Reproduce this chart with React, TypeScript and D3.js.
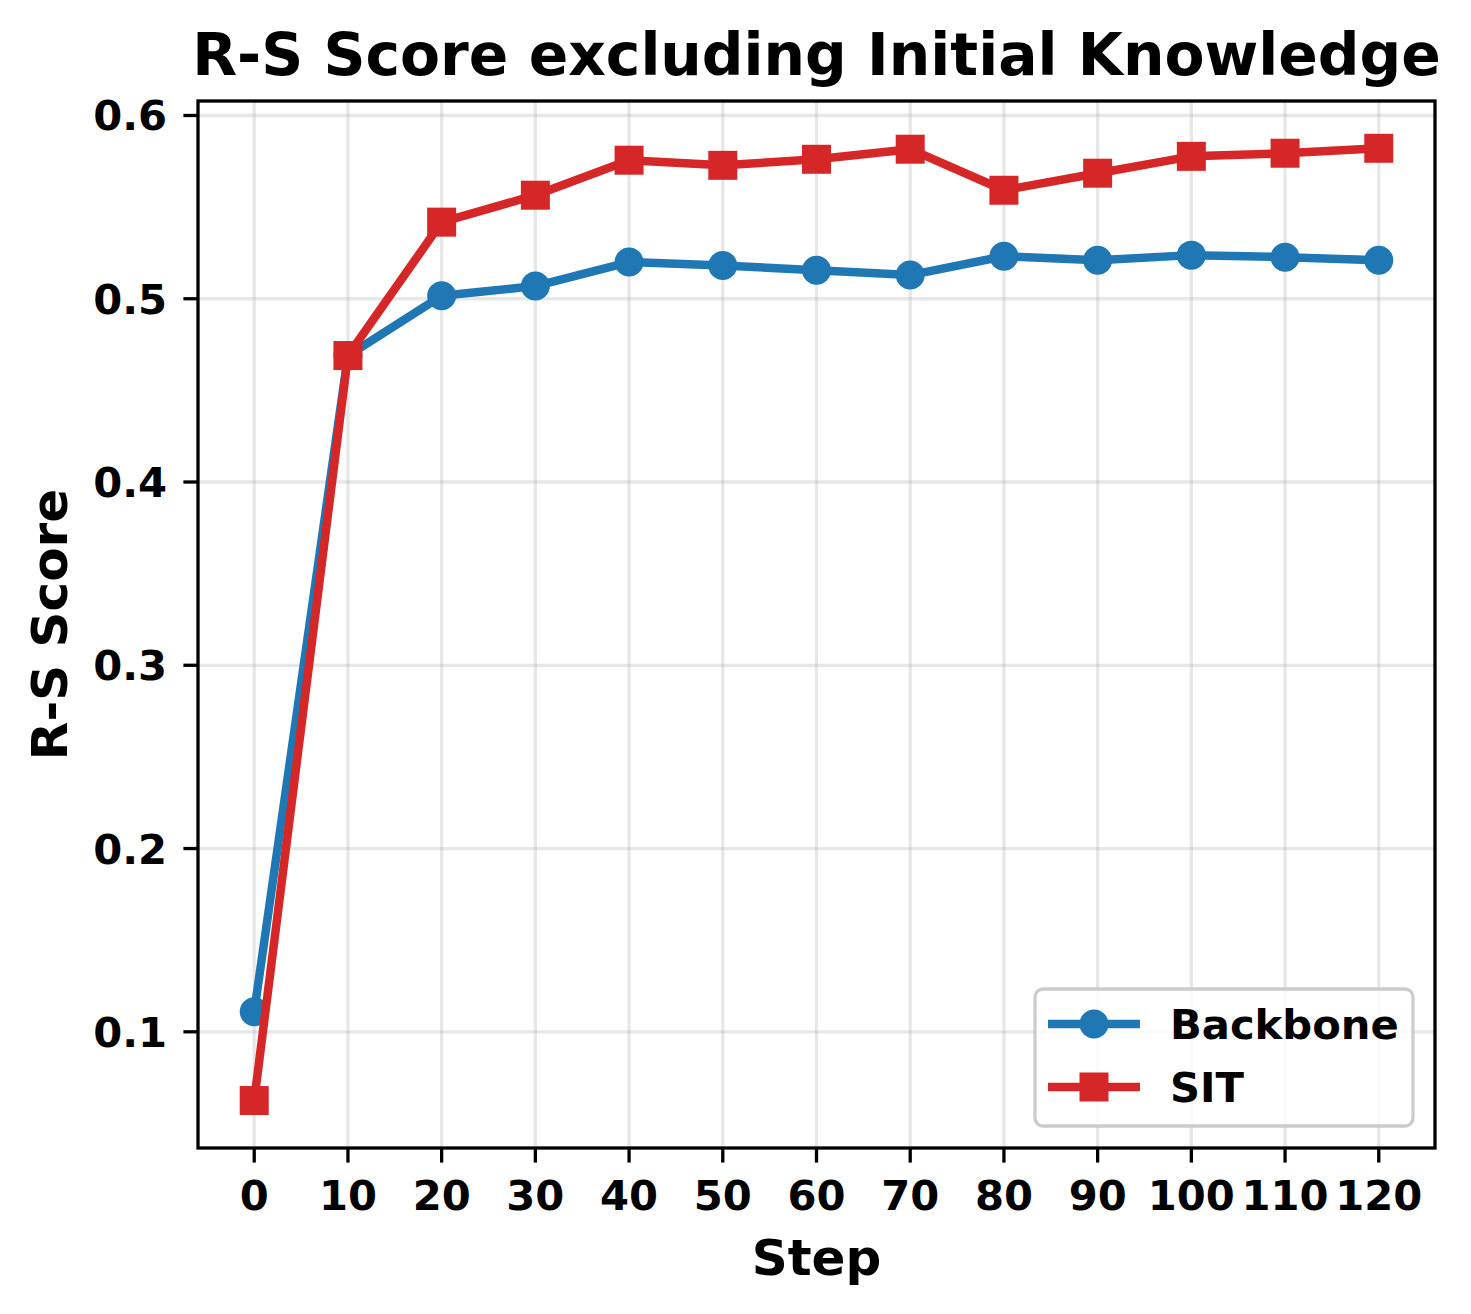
import React from "react";
import * as d3 from "d3";

const steps = [0, 10, 20, 30, 40, 50, 60, 70, 80, 90, 100, 110, 120];
const backbone = [0.111, 0.469, 0.5016, 0.5069, 0.52, 0.5181, 0.5156, 0.5129, 0.5232, 0.521, 0.5238, 0.5227, 0.521];
const sit = [0.0625, 0.469, 0.5418, 0.5565, 0.5756, 0.5728, 0.5761, 0.5816, 0.5592, 0.5685, 0.5777, 0.5794, 0.5821];
const yTicks = [0.1, 0.2, 0.3, 0.4, 0.5, 0.6];
const xTicks = [0, 10, 20, 30, 40, 50, 60, 70, 80, 90, 100, 110, 120];

const W = 1471;
const H = 1314;
const L = 198, R = 1435, T = 101, B = 1148;
const FONT = "'DejaVu Sans', sans-serif";
const BLUE = "#1f77b4";
const RED = "#d62728";

export default function App() {
  React.useEffect(() => {
    document.body.style.margin = "0";
  }, []);
  const x = d3.scaleLinear().domain([-6, 126]).range([L, R]);
  const y = d3.scaleLinear().domain([0.0366, 0.6079]).range([B, T]);
  const line = d3
    .line<number>()
    .x((_, i) => x(steps[i]))
    .y((d) => y(d));
  const lw = 8.5;
  const ms = 29;
  return (
    <svg width={W} height={H} style={{ display: "block", position: "absolute", left: 0, top: 0, background: "#fff" }} fontFamily={FONT} fontWeight="bold">
      <rect x={0} y={0} width={W} height={H} fill="#fff" />
      {/* grid */}
      {xTicks.map((t) => (
        <line key={"gx" + t} x1={x(t)} x2={x(t)} y1={T} y2={B} stroke="#b0b0b0" strokeOpacity={0.3} strokeWidth={3.3} />
      ))}
      {yTicks.map((t) => (
        <line key={"gy" + t} x1={L} x2={R} y1={y(t)} y2={y(t)} stroke="#b0b0b0" strokeOpacity={0.3} strokeWidth={3.3} />
      ))}
      {/* lines */}
      <path d={line(backbone) || ""} fill="none" stroke={BLUE} strokeWidth={lw} strokeLinejoin="round" />
      {backbone.map((v, i) => (
        <circle key={"b" + i} cx={x(steps[i])} cy={y(v)} r={ms / 2} fill={BLUE} />
      ))}
      <path d={line(sit) || ""} fill="none" stroke={RED} strokeWidth={lw} strokeLinejoin="round" />
      {sit.map((v, i) => (
        <rect key={"s" + i} x={x(steps[i]) - ms / 2} y={y(v) - ms / 2} width={ms} height={ms} fill={RED} />
      ))}
      {/* spines */}
      <rect x={L} y={T} width={R - L} height={B - T} fill="none" stroke="#000" strokeWidth={3.3} />
      {/* ticks */}
      {xTicks.map((t) => (
        <g key={"xt" + t}>
          <line x1={x(t)} x2={x(t)} y1={B} y2={B + 14.6} stroke="#000" strokeWidth={3.3} />
          <text x={x(t)} y={1210} textAnchor="middle" fontSize={41.7}>{t}</text>
        </g>
      ))}
      {yTicks.map((t) => (
        <g key={"yt" + t}>
          <line x1={L - 14.6} x2={L} y1={y(t)} y2={y(t)} stroke="#000" strokeWidth={3.3} />
          <text x={167} y={y(t)} dy="0.36em" textAnchor="end" fontSize={41.7}>{t.toFixed(1)}</text>
        </g>
      ))}
      {/* labels */}
      <text x={(L + R) / 2} y={1275} textAnchor="middle" fontSize={50}>Step</text>
      <text transform={`translate(67,${(T + B) / 2}) rotate(-90)`} textAnchor="middle" fontSize={50}>R-S Score</text>
      <text x={(L + R) / 2} y={75} textAnchor="middle" fontSize={58.3}>R-S Score excluding Initial Knowledge</text>
      {/* legend */}
      <rect x={1035} y={989} width={378} height={137} rx={8} fill="#fff" fillOpacity={0.8} stroke="#cccccc" strokeWidth={3.3} />
      <line x1={1048} x2={1140} y1={1024} y2={1024} stroke={BLUE} strokeWidth={lw} />
      <circle cx={1094} cy={1024} r={ms / 2} fill={BLUE} />
      <text x={1170} y={1024} dy="0.36em" fontSize={41.7}>Backbone</text>
      <line x1={1048} x2={1140} y1={1087} y2={1087} stroke={RED} strokeWidth={lw} />
      <rect x={1094 - ms / 2} y={1087 - ms / 2} width={ms} height={ms} fill={RED} />
      <text x={1170} y={1087} dy="0.36em" fontSize={41.7}>SIT</text>
    </svg>
  );
}
